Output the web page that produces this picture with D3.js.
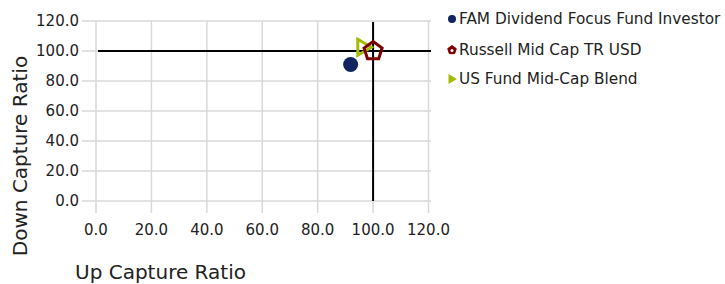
<!DOCTYPE html>
<html lang="en">
<head>
<meta charset="UTF-8">
<title>Up / Down Capture Ratio</title>
<script src="https://d3js.org/d3.v7.min.js"></script>
<style>
  html, body { margin: 0; padding: 0; background: #fff; }
  svg { display: block; font-family: "DejaVu Sans", Verdana, sans-serif; }
  .grid line { stroke: #d9d9d9; stroke-width: 1.5px; }
  .tick-label { font-size: 15px; fill: #222; }
  .axis-title { font-size: 20px; fill: #222; }
  .legend text { font-size: 15.3px; fill: #222; }
</style>
</head>
<body>
<svg width="725" height="284"></svg>

<script>
// data
const seriesNames = ["FAM Dividend Focus Fund Investor", "Russell Mid Cap TR USD", "US Fund Mid-Cap Blend"];
const upCapture = [91.9, 100.0, 96.5];
const downCapture = [91.0, 100.0, 102.5];
const seriesColors = ["#0f2461", "#7b0000", "#a4bc00"];
const seriesShapes = ["circle", "pentagon", "triangle"];
const xTicks = [0, 20, 40, 60, 80, 100, 120];
const yTicks = [0, 20, 40, 60, 80, 100, 120];
const refLine = 100;

const svg = d3.select("svg");

const x = d3.scaleLinear().domain([0, 120]).range([96, 428.5]);
const y = d3.scaleLinear().domain([0, 120]).range([201, 21]);

// gridlines
const grid = svg.append("g").attr("class", "grid");
grid.selectAll(".h").data(yTicks).enter().append("line")
  .attr("x1", 82).attr("x2", 431)
  .attr("y1", d => y(d)).attr("y2", d => y(d));
grid.selectAll(".v").data(xTicks).enter().append("line")
  .attr("x1", d => x(d)).attr("x2", d => x(d))
  .attr("y1", y(120)).attr("y2", 213);

// tick labels
svg.append("g").selectAll("text").data(yTicks).enter().append("text")
  .attr("class", "tick-label")
  .attr("x", 79).attr("y", d => y(d))
  .attr("text-anchor", "end").attr("dy", "0.35em")
  .text(d => d.toFixed(1));
svg.append("g").selectAll("text").data(xTicks).enter().append("text")
  .attr("class", "tick-label")
  .attr("x", d => x(d)).attr("y", 230)
  .attr("text-anchor", "middle").attr("dy", "0.35em")
  .text(d => d.toFixed(1));

// reference lines at 100
svg.append("line")
  .attr("x1", x(0) + 2).attr("x2", 431)
  .attr("y1", y(refLine)).attr("y2", y(refLine))
  .attr("stroke", "#000").attr("stroke-width", 2);
svg.append("line")
  .attr("x1", x(refLine)).attr("x2", x(refLine))
  .attr("y1", y(120) + 1).attr("y2", y(0))
  .attr("stroke", "#000").attr("stroke-width", 2);

// axis titles
svg.append("text").attr("class", "axis-title")
  .attr("transform", "translate(27,156) rotate(-90)")
  .attr("text-anchor", "middle")
  .text("Down Capture Ratio");
svg.append("text").attr("class", "axis-title")
  .attr("x", 75).attr("y", 279)
  .text("Up Capture Ratio");

function shapePath(shape, r) {
  if (shape === "pentagon") {
    const pts = d3.range(5).map(i => {
      const a = -Math.PI / 2 + i * 2 * Math.PI / 5;
      return [r * Math.cos(a), r * Math.sin(a)];
    });
    return "M" + pts.join("L") + "Z";
  }
  if (shape === "triangle") {
    return `M${-r * 0.7},${-r}L${r},0L${-r * 0.7},${r}Z`;
  }
  return d3.symbol(d3.symbolCircle, Math.PI * r * r)();
}

const points = d3.range(seriesNames.length).map(i => ({
  name: seriesNames[i], x: upCapture[i], y: downCapture[i],
  color: seriesColors[i], shape: seriesShapes[i]
}));

// draw order: triangle, circle, pentagon on top
const order = [2, 0, 1];
svg.append("g").selectAll("path").data(order.map(i => points[i])).enter().append("path")
  .attr("transform", d => `translate(${x(d.x)},${y(d.y)})`)
  .attr("d", d => d.shape === "circle" ? shapePath("circle", 7.5)
                : d.shape === "pentagon" ? shapePath("pentagon", 9.5)
                : shapePath("triangle", 8))
  .attr("fill", d => d.shape === "circle" ? d.color : "none")
  .attr("stroke", d => d.shape === "circle" ? "none" : d.color)
  .attr("stroke-width", 3);

// legend
const legend = svg.append("g").attr("class", "legend");
const legY = [19, 50, 79];
const item = legend.selectAll("g").data(points).enter().append("g")
  .attr("transform", (d, i) => `translate(0,${legY[i]})`);
item.append("path")
  .attr("transform", "translate(452,0)")
  .attr("d", d => d.shape === "circle" ? shapePath("circle", 4)
                : d.shape === "pentagon" ? shapePath("pentagon", 4.5)
                : shapePath("triangle", 5))
  .attr("fill", d => d.color)
  .attr("stroke", d => d.shape === "pentagon" ? d.color : "none")
  .attr("stroke-width", 1);
item.filter(d => d.shape === "pentagon").append("circle")
  .attr("cx", 452).attr("cy", 0.5).attr("r", 1.5).attr("fill", "#fff");
item.append("text")
  .attr("x", 459).attr("dy", "0.35em")
  .text(d => d.name);
</script>
</body>
</html>
